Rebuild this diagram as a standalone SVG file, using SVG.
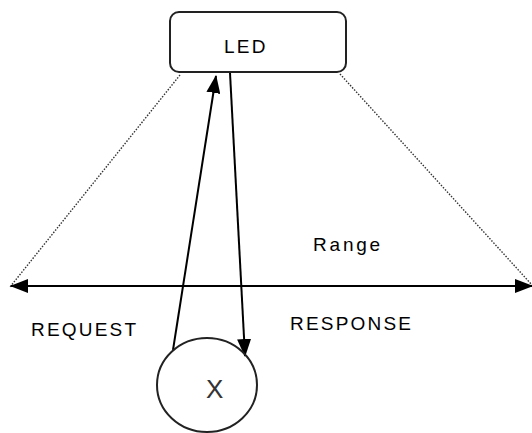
<svg xmlns="http://www.w3.org/2000/svg" width="532" height="433" viewBox="0 0 532 433">
<defs>
<style>
.lbl{font-family:"Liberation Sans",Arial,sans-serif;font-size:19px;fill:#000;letter-spacing:2.2px}
.box{fill:#fff;stroke:#222;stroke-width:2}
.dot{stroke:#333;stroke-width:1.4;stroke-dasharray:1.5 1.5;fill:none}
.conn{stroke:#000;stroke-width:2;fill:none}
</style>
<marker id="ah" viewBox="0 0 18 14" refX="17" refY="7" markerWidth="18" markerHeight="14" markerUnits="userSpaceOnUse" orient="auto-start-reverse">
<path d="M0,0 L18,7 L0,14 Z" fill="#000"/>
</marker>
</defs>
<rect width="532" height="433" fill="#fff"/>
<g id="connectors">
<line class="dot" x1="180" y1="75" x2="10" y2="287"/>
<line class="dot" x1="340" y1="74" x2="532" y2="285"/>
<line class="conn" x1="11" y1="286" x2="532" y2="286" marker-start="url(#ah)" marker-end="url(#ah)"/>
<line class="conn" x1="173" y1="350" x2="216" y2="76" marker-end="url(#ah)"/>
<line class="conn" x1="230" y1="73" x2="245" y2="356" marker-end="url(#ah)"/>
</g>
<g id="led">
<rect class="box" x="170" y="12" width="176" height="60" rx="9"/>
<text class="lbl" x="224" y="53">LED</text>
</g>
<g id="x-node">
<ellipse cx="207" cy="385" rx="50" ry="47" fill="none" stroke="#222" stroke-width="2"/>
<text class="lbl" x="206" y="398" style="font-size:26px;fill:#333;letter-spacing:0">X</text>
</g>
<g id="labels">
<text class="lbl" x="313" y="251" style="letter-spacing:2.8px">Range</text>
<text class="lbl" x="31" y="336">REQUEST</text>
<text class="lbl" x="290" y="330">RESPONSE</text>
</g>
</svg>
